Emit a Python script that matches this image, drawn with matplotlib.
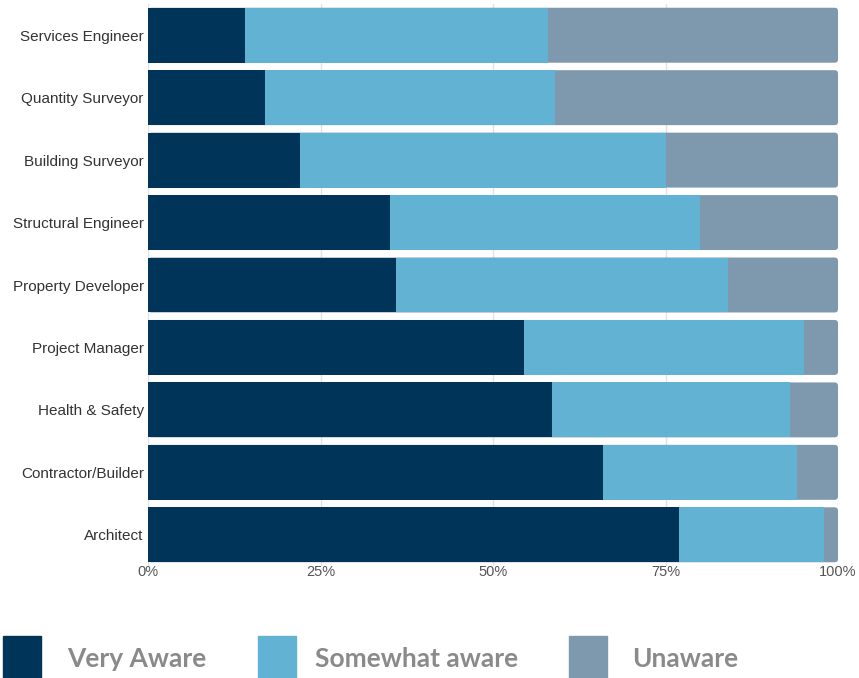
import numpy as np
import matplotlib
matplotlib.use('Agg')
import matplotlib.pyplot as plt
from matplotlib.patches import Rectangle, FancyBboxPatch

# awareness by role, percent of respondents
roles = ['Services Engineer', 'Quantity Surveyor', 'Building Surveyor',
         'Structural Engineer', 'Property Developer', 'Project Manager',
         'Health & Safety', 'Contractor/Builder', 'Architect']
very_aware = [14, 17, 22, 35, 36, 54.5, 58.5, 66, 77]
somewhat_aware = [44, 42, 53, 45, 48, 40.5, 34.5, 28, 21]
unaware = [42, 41, 25, 20, 16, 5, 7, 6, 2]

series_names = ['Very Aware', 'Somewhat aware', 'Unaware']
colors = ['#003458', '#62b3d3', '#7e98ae']
xticks = [0, 25, 50, 75, 100]
xtick_labels = ['0%', '25%', '50%', '75%', '100%']

W, H = 859, 678
fig = plt.figure(figsize=(W / 100, H / 100), dpi=100)
ax = fig.add_axes([148 / W, 112 / H, 690 / W, 562 / H])

bar_h = 0.88
y = np.arange(len(roles))
totals = np.array(very_aware) + np.array(somewhat_aware) + np.array(unaware)

# last segment: a full-length bar with rounded ends, the other segments sit on top
for yi, tot in zip(y, totals):
    ax.add_patch(FancyBboxPatch((0, yi - bar_h / 2), tot, bar_h,
                                boxstyle='round,pad=0,rounding_size=0.5',
                                mutation_aspect=0.11, facecolor=colors[2],
                                edgecolor='none', zorder=2))
left = np.zeros(len(roles))
for vals, col in zip([very_aware, somewhat_aware], colors[:2]):
    ax.barh(y, vals, left=left, height=bar_h, color=col, edgecolor='none', zorder=3)
    left += np.array(vals)

ax.set_xlim(0, 100)
ax.set_ylim(len(roles) - 0.5, -0.5)
ax.set_yticks(y)
ax.set_yticklabels(roles, fontsize=11, color='#333333', family='Liberation Sans')
ax.set_xticks(xticks)
ax.set_xticklabels(xtick_labels, fontsize=10.5, color='#555555', family='Liberation Sans')
ax.tick_params(length=0)
ax.tick_params(axis='y', pad=3)
ax.tick_params(axis='x', pad=-1)
ax.grid(axis='x', color='#e2e2e2', linewidth=1, zorder=0)
for s in ax.spines.values():
    s.set_visible(False)

# legend along the bottom edge
patch_x = [3, 258, 569]
text_x = [67, 315, 632]
for name, col, px, tx in zip(series_names, colors, patch_x, text_x):
    fig.patches.append(Rectangle((px / W, 0), 38 / W, 42 / H,
                                 transform=fig.transFigure, color=col))
    fig.text(tx / W, 11 / H, name, fontsize=19, fontweight='bold',
             color='#8a8a8a', va='baseline', ha='left', family='Lato')

fig.savefig('out.png', dpi=100)
